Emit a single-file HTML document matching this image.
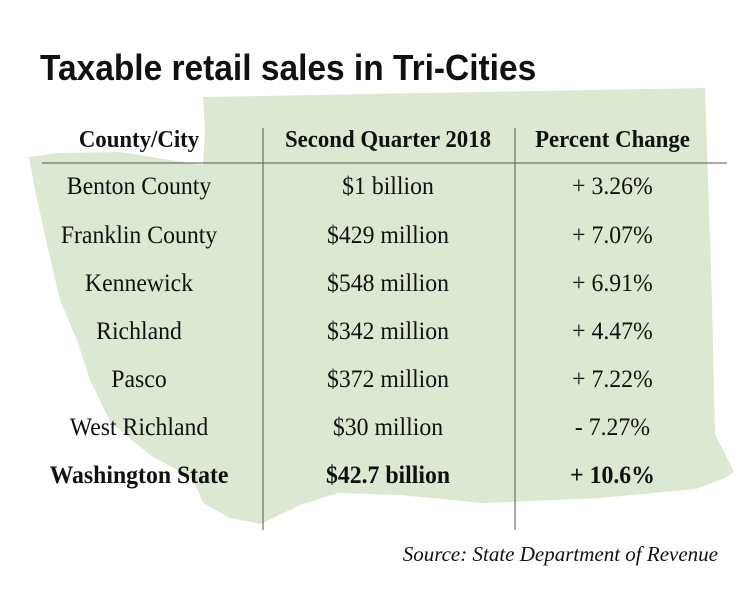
<!DOCTYPE html>
<html><head><meta charset="utf-8"><style>
body{margin:0;width:750px;height:600px;background:#fff;position:relative;overflow:hidden;font-family:"Liberation Serif",serif}
.t{position:absolute;left:40px;top:47px;font:bold 36px "Liberation Sans",sans-serif;transform:scaleX(.93);transform-origin:left;color:#111;white-space:nowrap}
.c{position:absolute;text-align:center;font-size:25px;color:#111;white-space:nowrap;transform:scaleX(.95)}
.h{font-size:24px;font-weight:bold}
.b{font-weight:bold}
</style></head><body>
<svg width="750" height="600" style="position:absolute;left:0;top:0">
<polygon fill="#dde8d3" points="203,97 705,88 712,300 715,434 734,472 725,478 696,489 600,498 483,503 400,495 338,493 300,505 261,524 230,518 203,503 193,479 150,455 111,423 90,380 77,340 60,300 48,249 35,190 29,157 58,153 120,152 170,160 203,165 205,130"/>
<line x1="42" y1="163" x2="727" y2="163" stroke="#555" stroke-width="1"/>
<line x1="263" y1="128" x2="263" y2="530" stroke="#555" stroke-width="1"/>
<line x1="515" y1="128" x2="515" y2="530" stroke="#555" stroke-width="1"/>
</svg>
<div class="t">Taxable retail sales in Tri-Cities</div>
<div class="c h" style="left:39px;width:200px;top:127px">County/City</div>
<div class="c h" style="left:263px;width:250px;top:127px">Second Quarter 2018</div>
<div class="c h" style="left:500px;width:225px;top:127px">Percent Change</div>
<div class="c" style="left:39px;width:200px;top:173px">Benton County</div>
<div class="c" style="left:39px;width:200px;top:222px">Franklin County</div>
<div class="c" style="left:39px;width:200px;top:270px">Kennewick</div>
<div class="c" style="left:39px;width:200px;top:318px">Richland</div>
<div class="c" style="left:39px;width:200px;top:366px">Pasco</div>
<div class="c" style="left:39px;width:200px;top:414px">West Richland</div>
<div class="c b" style="left:39px;width:200px;top:462px">Washington State</div>
<div class="c" style="left:263px;width:250px;top:173px">$1 billion</div>
<div class="c" style="left:263px;width:250px;top:222px">$429 million</div>
<div class="c" style="left:263px;width:250px;top:270px">$548 million</div>
<div class="c" style="left:263px;width:250px;top:318px">$342 million</div>
<div class="c" style="left:263px;width:250px;top:366px">$372 million</div>
<div class="c" style="left:263px;width:250px;top:414px">$30 million</div>
<div class="c b" style="left:263px;width:250px;top:462px">$42.7 billion</div>
<div class="c" style="left:515px;width:195px;top:173px">+ 3.26%</div>
<div class="c" style="left:515px;width:195px;top:222px">+ 7.07%</div>
<div class="c" style="left:515px;width:195px;top:270px">+ 6.91%</div>
<div class="c" style="left:515px;width:195px;top:318px">+ 4.47%</div>
<div class="c" style="left:515px;width:195px;top:366px">+ 7.22%</div>
<div class="c" style="left:515px;width:195px;top:414px">- 7.27%</div>
<div class="c b" style="left:515px;width:195px;top:462px">+ 10.6%</div>
<div class="c" style="left:398px;width:320px;top:542px;text-align:right;font-style:italic;font-size:21px;transform:none">Source: State Department of Revenue</div>
</body></html>
